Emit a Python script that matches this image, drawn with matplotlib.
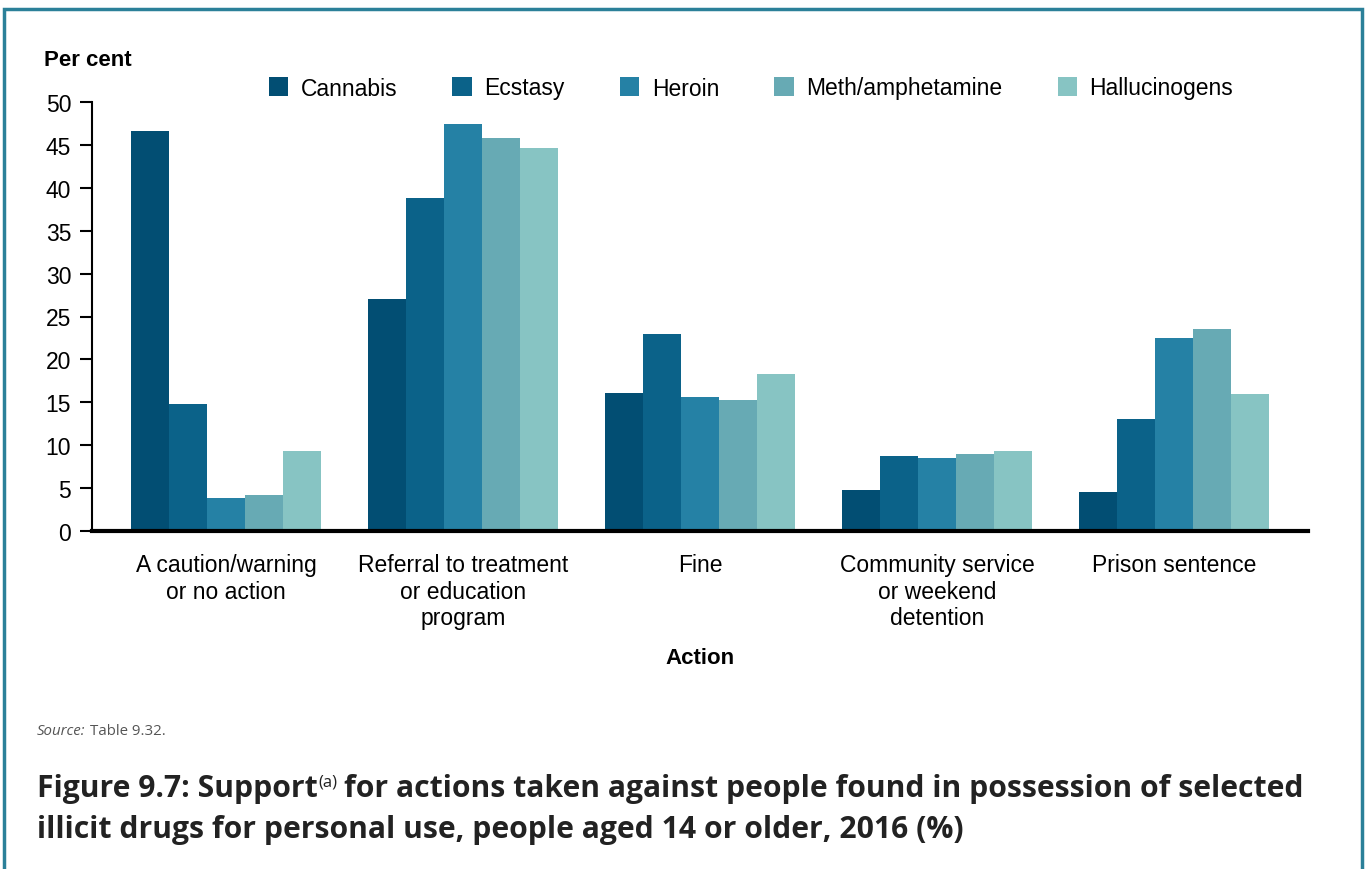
import numpy as np
import matplotlib
matplotlib.use("Agg")
import matplotlib.pyplot as plt
from matplotlib.patches import Rectangle

plt.rcParams["font.family"] = ["Liberation Sans", "DejaVu Sans"]

categories = ["A caution/warning\nor no action", "Referral to treatment\nor education\nprogram",
              "Fine", "Community service\nor weekend\ndetention", "Prison sentence"]
drugs = ["Cannabis", "Ecstasy", "Heroin", "Meth/amphetamine", "Hallucinogens"]
cannabis = [46.6, 27.0, 16.1, 4.8, 4.5]
ecstasy = [14.8, 38.8, 23.0, 8.7, 13.1]
heroin = [3.9, 47.4, 15.6, 8.5, 22.5]
meth = [4.2, 45.8, 15.3, 9.0, 23.5]
halluc = [9.3, 44.6, 18.3, 9.3, 16.0]
series = [cannabis, ecstasy, heroin, meth, halluc]
colors = ["#024E73", "#0B6289", "#2581A5", "#67AAB4", "#87C4C3"]
yticks = list(range(0, 55, 5))

W, H = 1366, 870
fig = plt.figure(figsize=(W/100, H/100), dpi=100)
ax = fig.add_axes([92/W, 1-532/H, (1308-92)/W, (532-103)/H])

x = np.arange(len(categories))
bw = 0.16
for i, (vals, name, c) in enumerate(zip(series, drugs, colors)):
    ax.bar(x + (i-2)*bw, vals, bw, color=c, label=name, linewidth=0)

ax.set_xlim(-0.565, 4.565)
ax.set_ylim(0, 50)
ax.set_yticks(yticks)
ax.tick_params(axis="y", labelsize=16.5, length=9, width=1.5, direction="out", pad=6)
ax.set_xticks(x)
ax.set_xticklabels(categories, fontsize=16.5, linespacing=1.2)
ax.tick_params(axis="x", length=0, pad=16)
for s in ["top", "right"]:
    ax.spines[s].set_visible(False)
ax.spines["left"].set_linewidth(1.5)
ax.spines["bottom"].set_linewidth(3)

fig.text(44/W, 1-60/H, "Per cent", fontsize=16, fontweight="bold", va="center", ha="left")
fig.text(700/W, 1-658/H, "Action", fontsize=16, fontweight="bold", va="center", ha="center")

ax.legend(loc="center", bbox_to_anchor=(751/W, 1-89/H), bbox_transform=fig.transFigure,
          ncol=5, frameon=False, fontsize=16.5, handlelength=0.85, handleheight=0.85,
          handletextpad=0.55, columnspacing=2.4)

sf = dict(fontsize=10.8, color="#555555", family=["Open Sans", "DejaVu Sans"], va="center")
s1 = fig.text(37/W, 1-732/H, "Source:", style="italic", **sf)
fig.canvas.draw()
r = fig.canvas.get_renderer()
sb = s1.get_window_extent(r)
fig.text(sb.x1/W + 4/W, 1-732/H, "Table 9.32.", **sf)

tf = dict(fontsize=21.7, fontweight="bold", color="#222222", family=["Open Sans", "DejaVu Sans"],
          va="baseline", ha="left")
y1 = 1-797/H
t1 = fig.text(37/W, y1, "Figure 9.7: Support", **tf)
bb = t1.get_window_extent(r)
t2 = fig.text(bb.x1/W + 1/W, y1 + 10/H, "(a)", fontsize=12, color="#222222",
              family=["Open Sans", "DejaVu Sans"], va="baseline", ha="left")
bb2 = t2.get_window_extent(r)
fig.text(bb2.x1/W + 6/W, y1,
         "for actions taken against people found in possession of selected", **tf)
fig.text(37/W, 1-838/H, "illicit drugs for personal use, people aged 14 or older, 2016 (%)", **tf)

fig.patches.append(Rectangle((4/W, -0.05), (1362-4)/W, 1.05-10/H, transform=fig.transFigure,
                             fill=False, edgecolor="#2B8099", linewidth=2.5))

fig.savefig("out.png", dpi=100)
